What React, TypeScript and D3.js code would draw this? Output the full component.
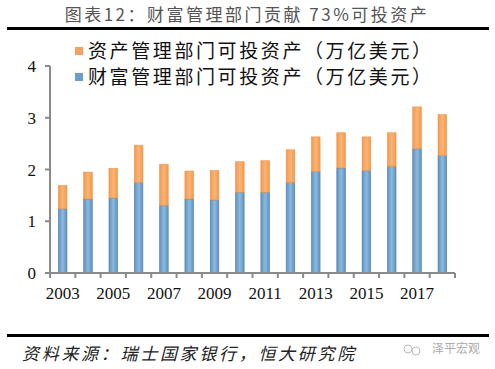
import * as d3 from 'd3';

const years = ['2003','2004','2005','2006','2007','2008','2009','2010','2011','2012','2013','2014','2015','2016','2017','2018'];
// 财富管理部门可投资产 (bottom, blue)
const wealth = [1.24, 1.43, 1.45, 1.75, 1.31, 1.43, 1.41, 1.56, 1.56, 1.75, 1.96, 2.03, 1.98, 2.06, 2.40, 2.27];
// 资产管理部门可投资产 (top, orange)
const asset = [0.45, 0.52, 0.57, 0.72, 0.79, 0.54, 0.57, 0.59, 0.61, 0.63, 0.67, 0.68, 0.65, 0.65, 0.81, 0.79];
const yTicks = [0, 1, 2, 3, 4];
const xLabels = ['2003','2005','2007','2009','2011','2013','2015','2017'];

const title = '图表12：财富管理部门贡献 73%可投资产';
const legendNames = ['资产管理部门可投资产（万亿美元）', '财富管理部门可投资产（万亿美元）'];
const source = '资料来源：瑞士国家银行，恒大研究院';

function App() {
  const width = 495;
  const height = 369;
  const margin = { left: 50, right: 40, top: 66, bottom: 96 };

  const rows = years.map((y, i) => ({ year: y, wealth: wealth[i], asset: asset[i] }));
  const stacked = d3.stack<any>().keys(['wealth', 'asset'])(rows);

  const x = d3.scaleBand()
    .domain(years)
    .range([margin.left, width - margin.right])
    .paddingInner(0.66)
    .paddingOuter(0.33);
  const y = d3.scaleLinear().domain([0, 4]).range([height - margin.bottom, margin.top]);
  const step = x.step();

  const fills = ['url(#gBlue)', 'url(#gOrange)'];
  const strokes = ['#4d7fae', '#e99450'];
  const axisColor = '#8a8a8a';
  const serif = '"Liberation Serif", "Times New Roman", serif';
  const cjk = '"Noto Sans CJK SC", sans-serif';

  return (
    <svg width={width} height={height} style={{ position: 'absolute', left: 0, top: 0, background: '#fff' }}>
      <defs>
        <linearGradient id="gBlue" x1="0" x2="1" y1="0" y2="0">
          <stop offset="0" stopColor="#5f92c2" />
          <stop offset="0.5" stopColor="#8cb9dd" />
          <stop offset="1" stopColor="#5f92c2" />
        </linearGradient>
        <linearGradient id="gOrange" x1="0" x2="1" y1="0" y2="0">
          <stop offset="0" stopColor="#f39a4e" />
          <stop offset="0.5" stopColor="#fbb473" />
          <stop offset="1" stopColor="#f39a4e" />
        </linearGradient>
      </defs>
      <rect width={width} height={height} fill="#fff" />

      {/* title */}
      <text x={247} y={21} textAnchor="middle" fontFamily={cjk} fontSize={17} letterSpacing={2.5} fill="#555">{title}</text>
      <rect x={7} y={27} width={482} height={3} fill="#000" />

      {/* legend */}
      {legendNames.map((name, i) => (
        <g key={name}>
          <rect x={75} y={47 + i * 26} width={8} height={8} fill={i === 0 ? '#f3a35f' : '#6a9fcc'} />
          <text x={88} y={58 + i * 26} fontFamily={cjk} fontSize={19} letterSpacing={2.6} fill="#111">{name}</text>
        </g>
      ))}

      {/* bars */}
      {stacked.map((layer, li) => (
        <g key={layer.key}>
          {layer.map((d, i) => (
            <rect
              key={i}
              x={x(years[i])}
              y={y(d[1])}
              width={x.bandwidth()}
              height={y(d[0]) - y(d[1])}
              fill={fills[li]}
              stroke={strokes[li]}
              strokeWidth={0.6}
            />
          ))}
        </g>
      ))}

      {/* y axis */}
      <line x1={margin.left} x2={margin.left} y1={y(4)} y2={y(0)} stroke={axisColor} strokeWidth={2} />
      {yTicks.map(t => (
        <g key={t}>
          <line x1={margin.left - 5} x2={margin.left} y1={y(t)} y2={y(t)} stroke={axisColor} strokeWidth={2} />
          <text x={36} y={y(t) + 6} textAnchor="end" fontFamily={serif} fontSize={17} fill="#111">{t}</text>
        </g>
      ))}

      {/* x axis */}
      <line x1={margin.left} x2={width - margin.right} y1={y(0)} y2={y(0)} stroke={axisColor} strokeWidth={2} />
      {d3.range(years.length + 1).map(i => (
        <line key={i} x1={margin.left + i * step} x2={margin.left + i * step} y1={y(0)} y2={y(0) + 5} stroke={axisColor} strokeWidth={2} />
      ))}
      {xLabels.map(l => (
        <text key={l} x={(x(l) ?? 0) + x.bandwidth() / 2} y={299} textAnchor="middle" fontFamily={serif} fontSize={17} fill="#111">{l}</text>
      ))}

      {/* footer */}
      <rect x={7} y={334} width={482} height={3} fill="#000" />
      <text x={22} y={360} fontFamily={cjk} fontSize={17} fontStyle="italic" letterSpacing={2.7} fill="#222">{source}</text>
      <g fill="none" stroke="#bbb" strokeWidth={1}>
        <circle cx={408} cy={349} r={4} />
        <circle cx={416} cy={351} r={4} />
      </g>
      <text x={432} y={353} fontFamily={cjk} fontSize={12} fill="#aaa">泽平宏观</text>
    </svg>
  );
}

export default App;
